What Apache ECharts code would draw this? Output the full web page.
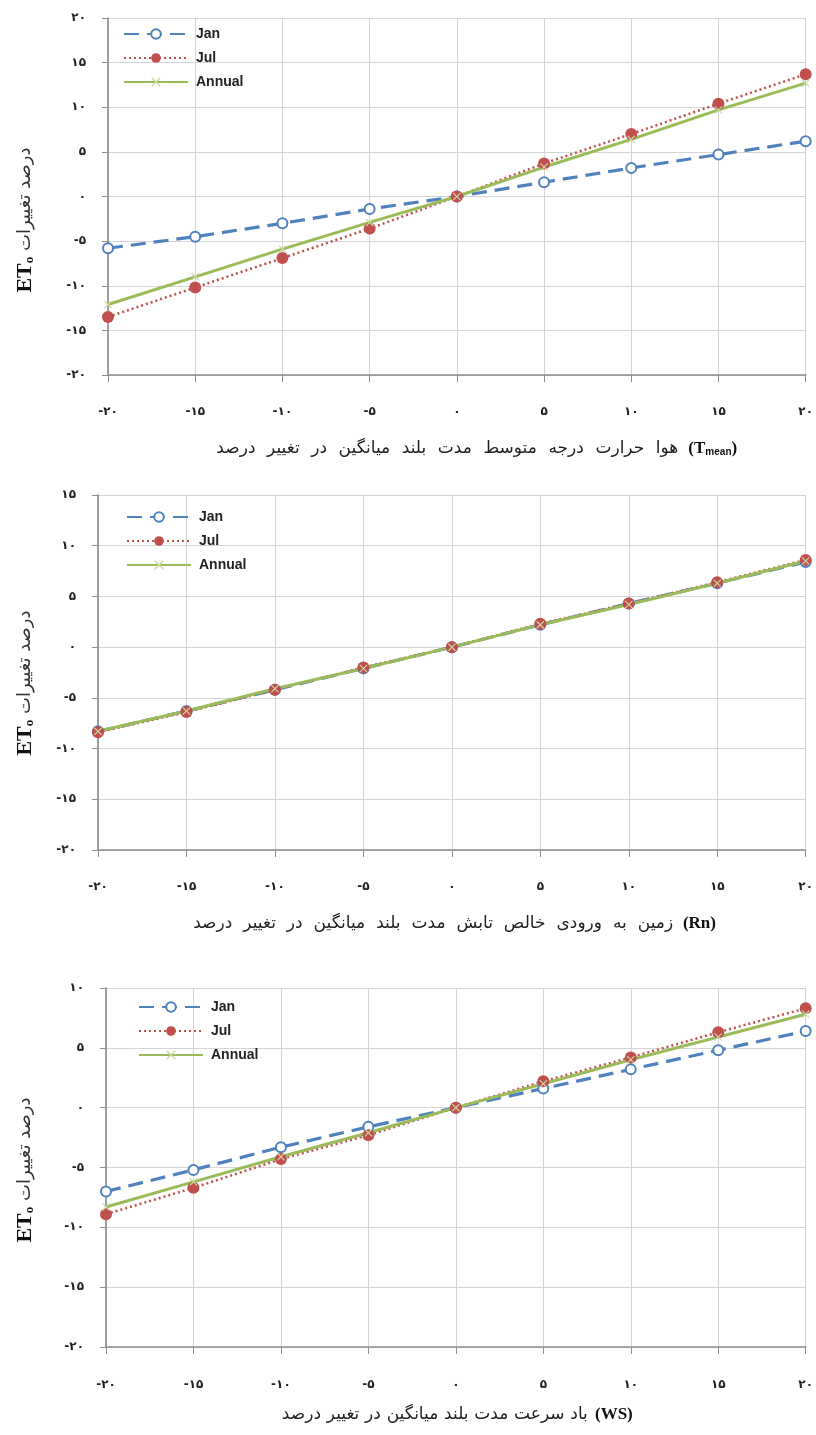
<!DOCTYPE html>
<html>
<head>
<meta charset="utf-8">
<script src="https://cdn.jsdelivr.net/npm/echarts@6/dist/echarts.min.js"></script>
<style>
html,body{margin:0;padding:0;background:#fff;}
#c{width:816px;height:1435px;}
</style>
</head>
<body>
<div id="c"></div>
<script>
// ---- data ----
const xTickLabels = ['-۲۰','-۱۵','-۱۰','-۵','۰','۵','۱۰','۱۵','۲۰'];
const faDigits = ['۰','۱','۲','۳','۴','۵','۶','۷','۸','۹'];
const seriesNames = ['Jan','Jul','Annual'];

const tmeanJan    = [-5.8,-4.5,-3.0,-1.4,0,1.6,3.2,4.7,6.2];
const tmeanJul    = [-13.5,-10.2,-6.9,-3.6,0,3.7,7.0,10.4,13.7];
const tmeanAnnual = [-12.1,-9.0,-5.9,-2.9,0,3.3,6.4,9.7,12.7];

const rnJan    = [-8.3,-6.3,-4.2,-2.1,0,2.2,4.3,6.3,8.4];
const rnJul    = [-8.4,-6.4,-4.2,-2.0,0,2.3,4.3,6.4,8.6];
const rnAnnual = [-8.3,-6.3,-4.1,-2.1,0,2.2,4.2,6.3,8.5];

const wsJan    = [-7.0,-5.2,-3.3,-1.6,0,1.6,3.2,4.8,6.4];
const wsJul    = [-8.9,-6.7,-4.3,-2.3,0,2.2,4.2,6.3,8.3];
const wsAnnual = [-8.3,-6.2,-4.1,-2.1,0,2.0,4.0,5.9,7.8];

const yRanges = [[-20,20],[-20,15],[-20,10]];

const xTitles = [
  'درصد تغییر در میانگین بلند مدت متوسط درجه حرارت هوا',
  'درصد تغییر در میانگین بلند مدت تابش خالص ورودی به زمین',
  'درصد تغییر در میانگین بلند مدت سرعت باد'
];
const xTitleTags = [['T','mean'],['Rn',''],['WS','']];
const yTitleFa = 'درصد تغییرات';

// ---- helpers ----
function toFa(v){
  const s = String(Math.abs(v)).split('').map(ch => faDigits[+ch] || ch).join('');
  return (v < 0 ? '-' : '') + s;
}
const FA_FONT = 17;
const measureCtx = document.createElement('canvas').getContext('2d');
measureCtx.font = FA_FONT + 'px "DejaVu Sans"';
// target pixel widths of the Persian part of each x title (layout only)
const titleWidths = [462, 480, 306];
function wordTokens(s, width, idx){
  const words = s.split(' ');
  let sum = 0;
  words.forEach(w => sum += measureCtx.measureText(w).width);
  const gap = Math.max(3, (width - sum) / (words.length - 1));
  return {
    text: words.map(w => '{w' + idx + '|' + w + '}').join(''),
    style: {fontFamily:'DejaVu Sans', fontSize:FA_FONT, color:'#222', padding:[0, gap/2, 0, gap/2]}
  };
}

const BLUE = '#4F81BD', RED = '#C0504D', GREEN = '#9BBB59';
const XSYM = 'path://M0,1L1,0L5,4L9,0L10,1L6,5L10,9L9,10L5,6L1,10L0,9L4,5Z';

const grids = [
  {left:108, top:18,  width:701, height:357},
  {left:98,  top:495, width:711, height:355},
  {left:106, top:988, width:703, height:359}
];
const labelMargins = [31,31,32];
const nameGaps = [65,65,59];
const namePads = [[0,0,0,34],[0,0,0,0],[0,0,0,0]];
const legendTops = [22, 505, 995];
const legendLefts = [118, 121, 133];
const yTitleY = [220, 683, 1170];

const allData = [
  [tmeanJan, tmeanJul, tmeanAnnual],
  [rnJan, rnJul, rnAnnual],
  [wsJan, wsJul, wsAnnual]
];

const xAxes = [], yAxes = [], series = [], legends = [], graphics = [];

for (let i = 0; i < 3; i++) {
  const tag = xTitleTags[i];
  const wt = wordTokens(xTitles[i], titleWidths[i], i);
  const rich = {
    b:{fontFamily:'Liberation Serif', fontWeight:'bold', fontSize:17, color:'#111'},
    s:{fontFamily:'Liberation Sans', fontWeight:'bold', fontSize:10, color:'#111', verticalAlign:'bottom'}
  };
  rich['w' + i] = wt.style;
  const nm = wt.text + '{b|\u200E (' + tag[0] + '}' + (tag[1] ? '{s|\u200E' + tag[1] + '}' : '') + '{b|\u200E)}';
  xAxes.push({
    type:'category', gridIndex:i, data:xTickLabels, boundaryGap:false,
    axisLine:{show:true, onZero:false, lineStyle:{color:'#8c8c8c', width:1.5}},
    axisTick:{show:true, length:7, lineStyle:{color:'#8c8c8c'}},
    axisLabel:{margin:labelMargins[i], fontFamily:'DejaVu Sans', fontWeight:'bold', fontSize:12, color:'#222', interval:0},
    splitLine:{show:true, interval:0, lineStyle:{color:'#d4d4d4', width:1}},
    name:nm, nameLocation:'middle', nameGap:nameGaps[i],
    nameTextStyle:{rich:rich, padding:namePads[i]}
  });
  yAxes.push({
    type:'value', gridIndex:i, min:yRanges[i][0], max:yRanges[i][1], interval:5,
    axisLine:{show:true, lineStyle:{color:'#8c8c8c', width:1.6}},
    axisTick:{show:true, length:6, lineStyle:{color:'#8c8c8c'}},
    axisLabel:{margin:22, fontFamily:'DejaVu Sans', fontWeight:'bold', fontSize:12, color:'#222', formatter:toFa},
    splitLine:{show:true, lineStyle:{color:'#d4d4d4', width:1}}
  });
  const d = allData[i];
  series.push({
    name:'Jan', type:'line', xAxisIndex:i, yAxisIndex:i, data:d[0],
    symbol:'emptyCircle', symbolSize:10,
    itemStyle:{color:BLUE, borderWidth:1},
    lineStyle:{color:BLUE, width:3.2, type:[15,8]},
    animation:false
  });
  series.push({
    name:'Jul', type:'line', xAxisIndex:i, yAxisIndex:i, data:d[1],
    symbol:'circle', symbolSize:12,
    itemStyle:{color:RED},
    lineStyle:{color:RED, width:2.5, type:[2,3]},
    animation:false
  });
  series.push({
    name:'Annual', type:'line', xAxisIndex:i, yAxisIndex:i, data:d[2],
    symbol:XSYM, symbolSize:8,
    itemStyle:{color:'#c9dca0'},
    lineStyle:{color:GREEN, width:3},
    animation:false
  });
  legends.push({
    data:seriesNames, orient:'vertical', left:legendLefts[i], top:legendTops[i],
    itemWidth:64, itemHeight:12, itemGap:10,
    textStyle:{fontFamily:'Liberation Sans Narrow, Liberation Sans', fontWeight:'bold', fontSize:14, color:'#222', padding:[0,0,0,3]},
    selectedMode:false
  });
  graphics.push({
    type:'text', x:25, y:yTitleY[i], rotation:Math.PI/2,
    style:{
      text:'{e|ET}{o|o}{p| ' + yTitleFa + '}',
      align:'center', verticalAlign:'middle',
      rich:{
        e:{fontFamily:'Liberation Serif', fontWeight:'bold', fontSize:22, fill:'#111'},
        o:{fontFamily:'Liberation Serif', fontWeight:'bold', fontSize:13, fill:'#111', verticalAlign:'bottom'},
        p:{fontFamily:'DejaVu Sans', fontSize:18, fill:'#333'}
      }
    }
  });
}

const chart = echarts.init(document.getElementById('c'), null, {renderer:'canvas'});
chart.setOption({
  backgroundColor:'#fff',
  animation:false,
  grid:grids,
  xAxis:xAxes,
  yAxis:yAxes,
  legend:legends,
  series:series,
  graphic:graphics
});
</script>
</body>
</html>
